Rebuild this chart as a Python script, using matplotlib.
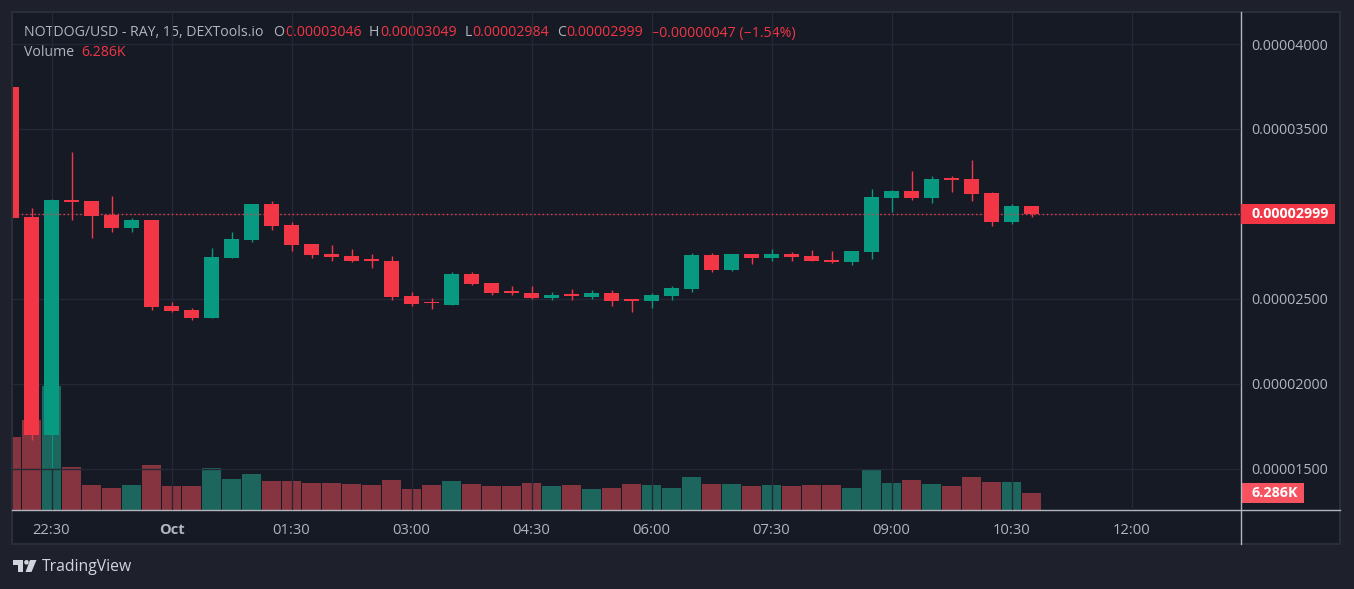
import numpy as np
import pandas as pd
import matplotlib
matplotlib.use('Agg')
import matplotlib.pyplot as plt
import matplotlib.patches as patches
from matplotlib.transforms import blended_transform_factory

# --- data (prices in units of 1e-5 USD, volume in K) ---
start_time = '2024-09-30 22:00'
opens = [3.749, 2.984, 1.700, 3.082, 3.076, 2.994, 2.920, 2.965, 2.459, 2.435,
         2.390, 2.743, 2.849, 3.059, 2.935, 2.824, 2.765, 2.753, 2.728, 2.724,
         2.518, 2.476, 2.465, 2.647, 2.594, 2.541, 2.535, 2.506, 2.524, 2.512,
         2.535, 2.494, 2.488, 2.518, 2.559, 2.759, 2.671, 2.765, 2.741, 2.765,
         2.753, 2.730, 2.718, 2.776, 3.094, 3.135, 3.094, 3.206, 3.206, 3.124,
         2.953, 3.046]
highs = [3.749, 3.035, 3.090, 3.366, 3.076, 3.106, 2.976, 2.965, 2.482, 2.447,
         2.800, 2.894, 3.059, 3.076, 2.953, 2.824, 2.818, 2.794, 2.765, 2.753,
         2.541, 2.506, 2.659, 2.659, 2.594, 2.576, 2.576, 2.541, 2.559, 2.553,
         2.553, 2.494, 2.535, 2.576, 2.771, 2.771, 2.765, 2.765, 2.794, 2.776,
         2.788, 2.782, 2.782, 3.147, 3.141, 3.253, 3.224, 3.224, 3.318, 3.129,
         3.059, 3.049]
lows = [2.978, 1.671, 1.506, 2.965, 2.860, 2.896, 2.896, 2.435, 2.425, 2.376,
        2.390, 2.743, 2.837, 2.908, 2.784, 2.743, 2.724, 2.718, 2.682, 2.494,
        2.459, 2.441, 2.465, 2.582, 2.524, 2.524, 2.500, 2.494, 2.494, 2.500,
        2.459, 2.424, 2.447, 2.494, 2.541, 2.659, 2.665, 2.706, 2.724, 2.724,
        2.724, 2.712, 2.700, 2.735, 3.012, 3.082, 3.065, 3.129, 3.076, 2.929,
        2.941, 2.984]
closes = [2.978, 1.700, 3.082, 3.072, 2.990, 2.920, 2.965, 2.455, 2.431, 2.390,
          2.747, 2.853, 3.059, 2.931, 2.820, 2.759, 2.747, 2.724, 2.726, 2.512,
          2.471, 2.474, 2.647, 2.588, 2.535, 2.535, 2.506, 2.524, 2.518, 2.535,
          2.488, 2.488, 2.524, 2.565, 2.759, 2.671, 2.765, 2.741, 2.765, 2.747,
          2.724, 2.718, 2.782, 3.100, 3.135, 3.094, 3.206, 3.200, 3.118, 2.953,
          3.047, 2.999]
volumes = [27.0, 33.3, 45.9, 15.9, 9.2, 8.1, 9.2, 16.6, 8.9, 8.9,
           15.5, 11.5, 13.3, 10.7, 10.7, 10.0, 10.0, 9.6, 9.2, 11.1,
           7.8, 9.2, 10.7, 9.6, 8.9, 8.9, 10.0, 8.9, 9.2, 7.8,
           8.1, 9.6, 9.2, 8.1, 12.2, 9.6, 9.6, 8.9, 9.2, 8.9,
           9.2, 9.2, 8.1, 15.2, 10.0, 11.1, 9.6, 8.9, 12.2, 10.4,
           10.4, 6.286]
tick_times = ['2024-09-30 22:30', '2024-10-01 00:00', '2024-10-01 01:30',
              '2024-10-01 03:00', '2024-10-01 04:30', '2024-10-01 06:00',
              '2024-10-01 07:30', '2024-10-01 09:00', '2024-10-01 10:30',
              '2024-10-01 12:00']
tick_labels = ['22:30', 'Oct', '01:30', '03:00', '04:30', '06:00',
               '07:30', '09:00', '10:30', '12:00']
price_ticks = [1.5, 2.0, 2.5, 3.0, 3.5, 4.0]

UP, DOWN = '#089981', '#f23645'
VOL_UP, VOL_DOWN = '#1d665d', '#873441'
PANE, OUTER, GRID, TXT = '#161a25', '#1e212b', '#252935', '#b2b5be'
plt.rcParams['font.family'] = ['Open Sans', 'DejaVu Sans']

W, H = 1354, 589
fig = plt.figure(figsize=(W / 100, H / 100), dpi=100)
fig.patch.set_facecolor(OUTER)

# background pane
bg = fig.add_axes([0, 0, 1, 1])
bg.set_xlim(0, W)
bg.set_ylim(H, 0)
bg.axis('off')
bg.add_patch(patches.Rectangle((12, 12), 1328, 532, facecolor=PANE,
                               edgecolor='#2a2e39', linewidth=1.5))

# main price axes
x_left, x_right, y_top, y_bot = 13, 1241, 12, 510
ax = fig.add_axes([x_left / W, 1 - y_bot / H, (x_right - x_left) / W, (y_bot - y_top) / H])
vax = ax.twinx()
ax.set_zorder(vax.get_zorder() + 1)
ax.patch.set_visible(False)

scale = 1e-5
o = np.array(opens) * scale
hi = np.array(highs) * scale
lo = np.array(lows) * scale
c = np.array(closes) * scale
vol = np.array(volumes)
times = pd.date_range(start_time, periods=len(o), freq='15min')
t0 = times[0]
x = np.arange(len(o))
up = c >= o

# volume overlay
vax.bar(x, vol, width=0.95, color=[VOL_UP if u else VOL_DOWN for u in up], linewidth=0)
px_per_vol = 17 / vol[-1]
vax.set_ylim(0, (y_bot - y_top) / px_per_vol)
vax.set_yticks([])

# candles
px_price = 5e-6 / 85  # price per pixel
colors = [UP if u else DOWN for u in up]
ax.vlines(x, lo, hi, colors=colors, linewidth=1, zorder=2)
body_h = np.maximum(np.abs(c - o), 1.6 * px_price)
ax.bar(x, body_h, bottom=np.minimum(o, c), width=0.75, color=colors, linewidth=0, zorder=3)

# axes ranges
ax.set_xlim((x_left - 11.5) / 20, (x_right - 11.5) / 20)
ax.set_ylim(3e-5 - (y_bot - 214) * px_price, 3e-5 + (214 - y_top) * px_price)

# ticks / grid
tick_pos = [(pd.Timestamp(t) - t0) / pd.Timedelta('15min') for t in tick_times]
ax.set_xticks(tick_pos)
ax.set_xticklabels(tick_labels, color=TXT, fontsize=10.6)
for lbl in ax.get_xticklabels():
    if lbl.get_text() == 'Oct':
        lbl.set_fontweight('bold')
ax.yaxis.tick_right()
ax.set_yticks([p * scale for p in price_ticks])
ax.set_yticklabels([f'{p * scale:.8f}' for p in price_ticks], color=TXT, fontsize=10.3)
ax.tick_params(axis='both', length=0)
ax.tick_params(axis='y', pad=7.5)
ax.tick_params(axis='x', pad=9)
ax.grid(True, color=GRID, linewidth=1)
ax.set_axisbelow(True)
for a in (ax, vax):
    for s in a.spines.values():
        s.set_visible(False)

# last price line + labels
last = c[-1]
ax.axhline(last, color=DOWN, linewidth=1, linestyle=(0, (1, 2)), zorder=4)
tr = blended_transform_factory(ax.transAxes, ax.transData)
ax_w = x_right - x_left
ax.add_patch(patches.Rectangle((1.0, last - 10 * px_price), 94 / ax_w, 20 * px_price,
                               transform=tr, facecolor=DOWN, edgecolor='none', clip_on=False))
ax.text(1.0 + 10 / ax_w, last, f'{last:.8f}', transform=tr, color='white', fontsize=10.3,
        fontweight='bold', va='center', ha='left', clip_on=False)
vtr = blended_transform_factory(vax.transAxes, vax.transData)
vpx = 1 / px_per_vol
vax.add_patch(patches.Rectangle((1.0, vol[-1] - 10 * vpx), 63 / ax_w, 20 * vpx,
                                transform=vtr, facecolor='#f7525f', edgecolor='none', clip_on=False))
vax.text(1.0 + 10 / ax_w, vol[-1], f'{vol[-1]:.3f}K', transform=vtr, color='white', fontsize=10.3,
         fontweight='bold', va='center', ha='left', clip_on=False)

# overlay: axis lines, legend text, logo
ov = fig.add_axes([0, 0, 1, 1])
ov.set_xlim(0, W)
ov.set_ylim(H, 0)
ov.axis('off')
ov.plot([12, 1340], [510, 510], color='#b2b5be', linewidth=1)
ov.plot([1241, 1241], [12, 544], color='#b2b5be', linewidth=1)

fs = 10.2
ov.text(23.5, 33, 'NOTDOG/USD - RAY, 15, DEXTools.io', color=TXT, fontsize=fs, va='center')
head = ['O', 'H', 'L', 'C']
vals = [opens[-1], highs[-1], lows[-1], closes[-1]]
vx = [285, 380, 472.3, 566.4]
for k, v, xx in zip(head, vals, vx):
    ov.text(xx - 0.5, 33, k, color=TXT, fontsize=fs, va='center', ha='right')
    ov.text(xx, 33, f'{v * scale:.8f}', color=DOWN, fontsize=fs, va='center')
chg = (closes[-1] - opens[-1]) * scale
pct = (closes[-1] - opens[-1]) / opens[-1] * 100
ov.text(651, 33, f'\u2212{abs(chg):.8f} (\u2212{abs(pct):.2f}%)', color=DOWN, fontsize=fs, va='center')
ov.text(23.5, 53, 'Volume', color=TXT, fontsize=fs, va='center')
ov.text(81, 53, f'{vol[-1]:.3f}K', color=DOWN, fontsize=fs, va='center')

# TradingView logo
logo_c = '#d1d4dc'
ov.add_patch(patches.Rectangle((13, 560), 10, 4.5, facecolor=logo_c, edgecolor='none'))
ov.add_patch(patches.Rectangle((18, 560), 5, 12, facecolor=logo_c, edgecolor='none'))
ov.add_patch(patches.Circle((26.5, 562.3), 2.3, facecolor=logo_c, edgecolor='none'))
ov.add_patch(patches.Polygon([(30, 560), (36.5, 560), (31.5, 572), (25.5, 572)],
                             facecolor=logo_c, edgecolor='none'))
ov.text(42, 567, 'TradingView', color=logo_c, fontsize=11.3, va='center')

fig.savefig('out.png', dpi=100, facecolor=fig.get_facecolor())
